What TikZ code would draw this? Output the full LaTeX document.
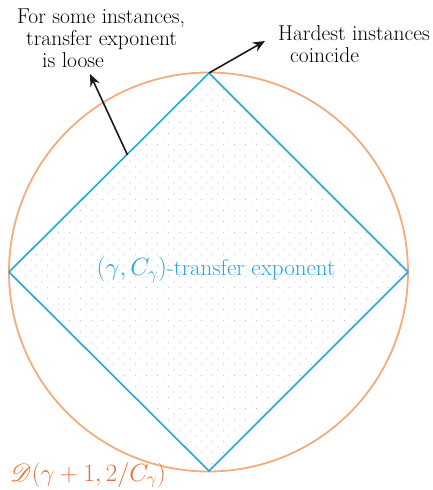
\documentclass[tikz,border=0pt]{standalone}
\usepackage{mathrsfs}
\usetikzlibrary{arrows.meta}
\definecolor{dblue}{RGB}{40,165,222}
\definecolor{dotblue}{RGB}{178,198,238}
\definecolor{corange}{RGB}{243,172,122}
\definecolor{torange}{RGB}{228,112,52}
\tikzset{
  lbl/.style={font=\fontsize{21.5}{26}\selectfont, inner sep=0pt, anchor=base west},
  arr/.style={line width=1.6pt, -{Stealth[length=12pt,width=10pt]}, black!90},
}
\begin{document}
\begin{tikzpicture}[x=1pt,y=-1pt]
\useasboundingbox (0,0) rectangle (433,490);
% diamond vertices
\coordinate (T) at (209,73);
\coordinate (L) at (9,272);
\coordinate (R) at (408,272);
\coordinate (B) at (209,471);
\coordinate (C) at (208.5,272);
% dots
\begin{scope}
  \clip (T) -- (R) -- (B) -- (L) -- cycle;
  \foreach \j in {0,...,73} {
    \pgfmathsetmacro{\yy}{73+5.5*\j}
    \pgfmathsetmacro{\off}{mod(\j,2)*5.5}
    \foreach \i in {0,...,37} {
      \fill[dotblue] ({9+\off+11*\i},\yy) circle (0.7pt);
    }
  }
\end{scope}
% circle
\draw[corange, line width=1.8pt] (C) circle (199.5pt);
% diamond
\draw[dblue, line width=1.6pt, line join=miter] (T) -- (R) -- (B) -- (L) -- cycle;
% center label
\node[font=\fontsize{23}{27}\selectfont, text=dblue, inner sep=0pt] (lab) at (216,270) {$(\gamma,C_\gamma)$-transfer exponent};
% bottom label
\node[font=\fontsize{24}{28}\selectfont, inner sep=0pt, anchor=base west, text=torange] (dlab) at (10,481) {$\mathscr{D}(\gamma+1,2/C_\gamma)$};
% left annotation
\node[lbl] (l1) at (17,23) {For some instances,};
\node[lbl] (l2) at (26,45) {transfer exponent};
\node[lbl] (l3) at (42,67) {is loose};
\coordinate (a1s) at (127.5,155);
\coordinate (a1e) at (90,74);
\draw[arr] (a1s) -- (a1e);
% right annotation
\node[lbl] (r1) at (278,40) {Hardest instances};
\node[lbl] (r2) at (290,62) {coincide};
\coordinate (a2e) at (265,41);
\draw[arr] (T) -- (a2e);
\end{tikzpicture}
\end{document}
